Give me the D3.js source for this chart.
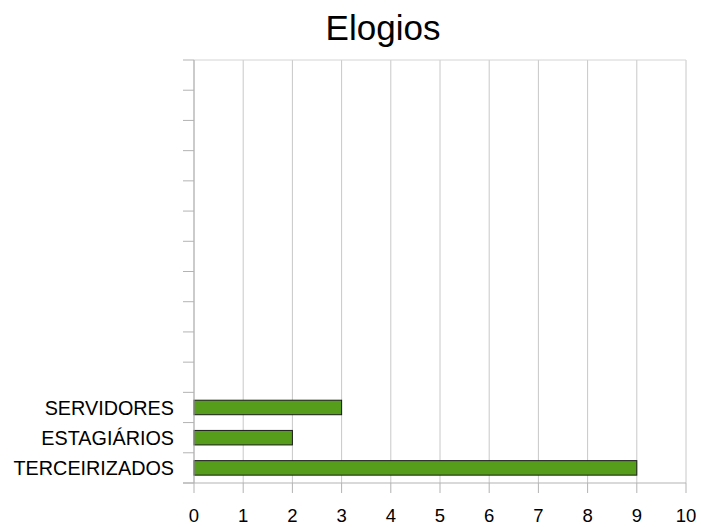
<!DOCTYPE html>
<html>
<head>
<meta charset="utf-8">
<script src="https://cdn.jsdelivr.net/npm/d3@7"></script>
<style>
  body { margin: 0; background: #fff; }
  text { font-family: "Liberation Sans", Arial, sans-serif; fill: #000; }
</style>
</head>
<body>
<svg id="chart" width="701" height="527"></svg>
<script>
// categories from bottom to top; the chart keeps 11 empty rows above them
const categories = ["TERCEIRIZADOS", "ESTAGIÁRIOS", "SERVIDORES"];
const values = [9, 2, 3];
const emptyRows = 11;
const xTicks = [0, 1, 2, 3, 4, 5, 6, 7, 8, 9, 10];

const width = 701, height = 527;
const margin = { top: 60, right: 15, bottom: 44, left: 194 };
const svg = d3.select("#chart");

const rows = d3.range(categories.length + emptyRows);
const x = d3.scaleLinear().domain([0, 10]).range([margin.left, width - margin.right]);
const y = d3.scaleBand().domain(rows).range([height - margin.bottom, margin.top]).paddingInner(0.52).paddingOuter(0.26);

// vertical grid
svg.append("g").selectAll("line").data(xTicks).join("line")
  .attr("x1", d => x(d)).attr("x2", d => x(d))
  .attr("y1", margin.top).attr("y2", height - margin.bottom)
  .attr("stroke", "#c8c8c8").attr("stroke-width", 1);

// top border
svg.append("line")
  .attr("x1", margin.left).attr("x2", width - margin.right)
  .attr("y1", margin.top).attr("y2", margin.top)
  .attr("stroke", "#d4d4d4");

// bars
svg.append("g").selectAll("rect").data(categories).join("rect")
  .attr("x", x(0))
  .attr("y", (d, i) => y(i))
  .attr("width", (d, i) => x(values[i]) - x(0))
  .attr("height", y.bandwidth())
  .attr("fill", "#579d1c")
  .attr("stroke", "#1a1a1a")
  .attr("stroke-width", 1);

// y axis
const step = (height - margin.bottom - margin.top) / rows.length;
const yAxis = svg.append("g");
yAxis.append("line")
  .attr("x1", margin.left).attr("x2", margin.left)
  .attr("y1", margin.top).attr("y2", height - margin.bottom)
  .attr("stroke", "#b3b3b3");
yAxis.selectAll("line.tick").data(d3.range(rows.length + 1)).join("line")
  .attr("class", "tick")
  .attr("x1", margin.left - 11).attr("x2", margin.left)
  .attr("y1", d => margin.top + d * step).attr("y2", d => margin.top + d * step)
  .attr("stroke", "#b3b3b3");
yAxis.selectAll("text").data(categories).join("text")
  .attr("x", margin.left - 20)
  .attr("y", (d, i) => y(i) + y.bandwidth() / 2)
  .attr("dy", "0.36em")
  .attr("text-anchor", "end")
  .attr("font-size", 19.8)
  .text(d => d);

// x axis
const xAxis = svg.append("g");
xAxis.append("line")
  .attr("x1", margin.left - 11).attr("x2", width - margin.right)
  .attr("y1", height - margin.bottom).attr("y2", height - margin.bottom)
  .attr("stroke", "#b3b3b3");
xAxis.selectAll("line.tick").data(xTicks).join("line")
  .attr("class", "tick")
  .attr("x1", d => x(d)).attr("x2", d => x(d))
  .attr("y1", height - margin.bottom).attr("y2", height - margin.bottom + 10)
  .attr("stroke", "#b3b3b3");
xAxis.selectAll("text").data(xTicks).join("text")
  .attr("x", d => x(d))
  .attr("y", 522)
  .attr("text-anchor", "middle")
  .attr("font-size", 18.5)
  .text(d => d);

// title
svg.append("text")
  .attr("x", 383).attr("y", 40)
  .attr("text-anchor", "middle")
  .attr("font-size", 35)
  .text("Elogios");
</script>
</body>
</html>
